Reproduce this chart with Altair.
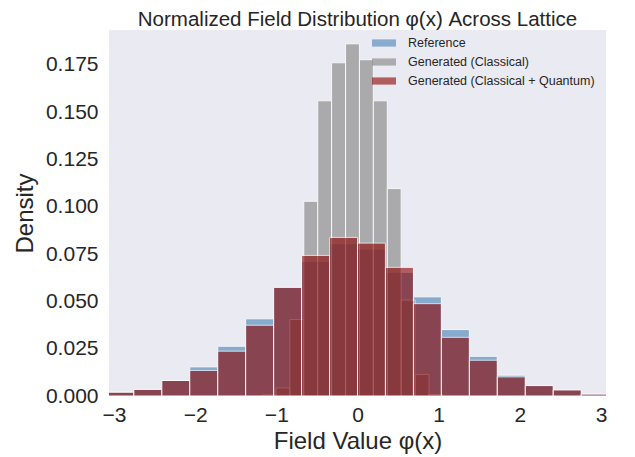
import altair as alt
import pandas as pd

# Bin edges
ref_edges = [-3.100, -2.756, -2.411, -2.067, -1.722, -1.378, -1.033, -0.689, -0.344,
             0.000, 0.344, 0.689, 1.033, 1.378, 1.722, 2.067, 2.411, 2.756, 3.100]
cls_edges = [-1.176, -1.004, -0.833, -0.662, -0.490, -0.319, -0.147, 0.024,
             0.195, 0.367, 0.538, 0.710, 0.881, 1.052]

# Densities
reference = [0.0020, 0.0035, 0.0082, 0.0154, 0.0263, 0.0408, 0.0574, 0.0712, 0.0805,
             0.0777, 0.0654, 0.0524, 0.0351, 0.0210, 0.0110, 0.0055, 0.0032, 0.0010]
classical = [0.0006, 0.0043, 0.0404, 0.1029, 0.1560, 0.1761, 0.1861, 0.1777, 0.1560,
             0.1096, 0.0507, 0.0114, 0.0008]
quantum = [0.0020, 0.0035, 0.0082, 0.0135, 0.0237, 0.0374, 0.0574, 0.0743, 0.0838,
           0.0808, 0.0680, 0.0488, 0.0310, 0.0189, 0.0101, 0.0055, 0.0032, 0.0010]

series_names = ["Reference", "\u00a0Generated (Classical)", "Generated (Classical + Quantum)"]
series_colors = ["steelblue", "gray", "darkred"]

rows = []
for name, edges, vals in [(series_names[0], ref_edges, reference),
                          (series_names[1], cls_edges, classical),
                          (series_names[2], ref_edges, quantum)]:
    for i, v in enumerate(vals):
        rows.append({"series": name, "x0": edges[i], "x1": edges[i + 1], "density": v})
df = pd.DataFrame(rows)

color = alt.Color(
    "series:N",
    scale=alt.Scale(domain=series_names, range=series_colors),
    sort=series_names,
    legend=alt.Legend(
        title=None,
        orient="none",
        legendX=263,
        legendY=1,
        symbolType="M-1,-0.3L1,-0.3L1,0.3L-1,0.3Z",
        symbolSize=576,
        symbolOpacity=0.6,
        symbolStrokeWidth=0,
        labelFontSize=12.5,
        labelFont="Liberation Sans",
        labelColor="#262626",
        labelOffset=12,
        rowPadding=0,
        labelLimit=400,
    ),
)

x = alt.X(
    "x0:Q",
    scale=alt.Scale(domain=[-3, 3], nice=False, zero=False),
    axis=alt.Axis(
        title="Field Value φ(x)",
        values=[-3, -2, -1, 0, 1, 2, 3],
        format="d",
        labelExpr="replace(datum.label, '-', '−')",
        grid=False,
        ticks=False,
        tickSize=0,
        domain=False,
        labelFontSize=21,
        titleFontSize=24,
        labelPadding=8,
        titlePadding=4,
        titleFontWeight="normal",
    ),
)
y = alt.Y(
    "density:Q",
    scale=alt.Scale(domain=[0, 0.1934], nice=False),
    axis=alt.Axis(
        title="Density",
        values=[0, 0.025, 0.05, 0.075, 0.1, 0.125, 0.15, 0.175],
        format=".3f",
        grid=False,
        ticks=False,
        tickSize=0,
        domain=False,
        labelFontSize=21,
        titleFontSize=24,
        labelPadding=11,
        titlePadding=8,
        titleFontWeight="normal",
    ),
)

layers = []
for name in series_names:
    layers.append(
        alt.Chart(df)
        .transform_filter(alt.datum.series == name)
        .mark_bar(opacity=0.6, stroke="white", strokeWidth=1, clip=True,
                  orient="vertical")
        .encode(x=x, x2="x1:Q", y=y, y2=alt.datum(0), color=color)
    )

chart = (
    alt.layer(*layers)
    .properties(
        width=497,
        height=366,
        title=alt.Title(
            "Normalized Field Distribution φ(x) Across Lattice",
            fontSize=20.5,
            fontWeight="normal",
            font="Liberation Sans",
            color="#262626",
            offset=0,
        ),
        autosize=alt.AutoSizeParams(type="none"),
        padding={"left": 101, "top": 22, "right": 20, "bottom": 61},
    )
    .configure_view(fill="#EAEAF2", strokeWidth=0)
    .configure_axis(labelFont="Liberation Sans", titleFont="Liberation Sans",
                    labelColor="#262626", titleColor="#262626")
)

chart.save("out.html", embed_options={"renderer": "svg", "actions": False})
